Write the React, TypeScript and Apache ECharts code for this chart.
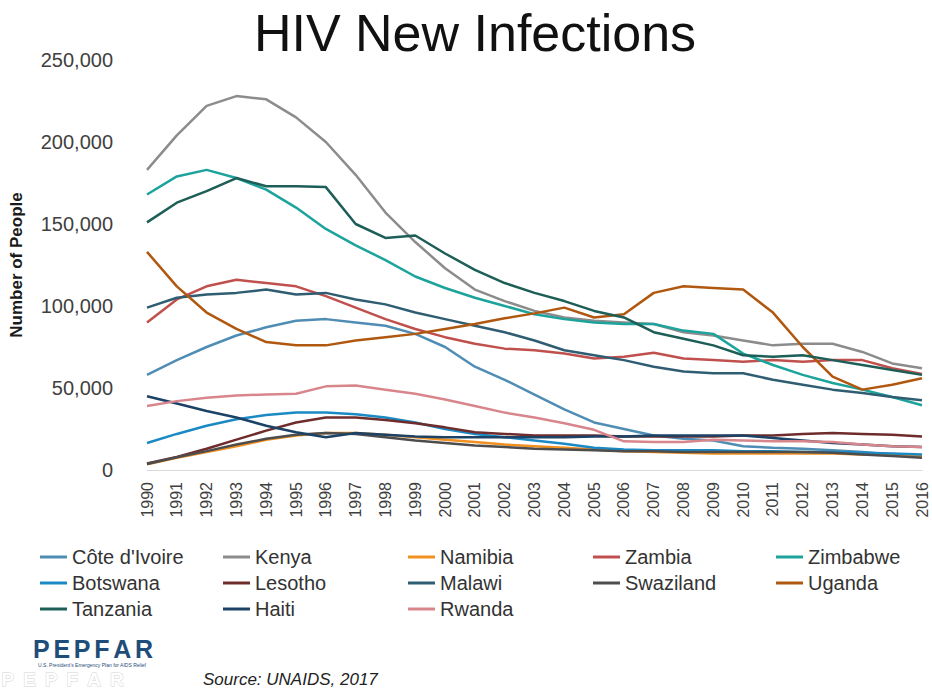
import React, { useEffect, useRef } from "react";
import * as echarts from "echarts";

const years = [
  "1990", "1991", "1992", "1993", "1994", "1995", "1996", "1997", "1998", "1999",
  "2000", "2001", "2002", "2003", "2004", "2005", "2006", "2007", "2008", "2009",
  "2010", "2011", "2012", "2013", "2014", "2015", "2016",
];

const coteDIvoire = [58000, 67000, 75000, 82000, 87000, 91000, 92000, 90000, 88000, 83000, 75000, 63000, 55000, 46000, 37000, 29000, 25000, 21000, 19000, 18000, 14500, 13500, 13000, 12000, 11000, 9500, 8500];
const kenya = [183000, 204000, 222000, 228000, 226000, 215000, 200000, 180000, 157000, 139000, 123000, 110000, 103000, 97000, 93000, 91000, 90000, 89000, 84000, 82000, 79000, 76000, 77000, 77000, 72000, 65000, 62000];
const namibia = [3500, 7500, 11000, 14500, 18500, 21000, 22500, 22500, 21500, 20000, 18500, 17000, 15500, 14500, 13500, 12500, 11500, 11000, 10500, 10000, 10000, 10000, 10000, 10000, 9500, 9000, 8500];
const zambia = [90000, 104000, 112000, 116000, 114000, 112000, 106000, 99000, 92000, 86000, 81000, 77000, 74000, 73000, 71000, 68000, 69000, 71500, 68000, 67000, 66000, 67000, 66000, 67000, 67000, 62000, 58500];
const zimbabwe = [168000, 179000, 183000, 178000, 171000, 160000, 147000, 137000, 128000, 118000, 111000, 105000, 100000, 95000, 92000, 90000, 89000, 89000, 85000, 83000, 71000, 64000, 58000, 53000, 49000, 44500, 39500];
const botswana = [16500, 22000, 27000, 31000, 33500, 35000, 35000, 34000, 32000, 29000, 25000, 22000, 20000, 18000, 16000, 13500, 12500, 12000, 12000, 12000, 11500, 11500, 11000, 11000, 10500, 10000, 9500];
const lesotho = [4000, 8000, 13000, 18500, 24000, 29000, 32000, 32000, 30500, 28500, 26000, 23000, 22000, 21000, 21000, 21000, 20500, 20500, 20500, 20500, 21000, 21000, 22000, 22500, 22000, 21500, 20500];
const malawi = [99000, 105000, 107000, 108000, 110000, 107000, 108000, 104000, 101000, 96000, 92000, 88000, 84000, 79000, 73000, 70000, 67000, 63000, 60000, 59000, 59000, 55000, 52000, 49000, 47000, 44500, 42500];
const swaziland = [3700, 7800, 11500, 15500, 19000, 21500, 22500, 22000, 20000, 18000, 16500, 15000, 14000, 13000, 12500, 12000, 11500, 11500, 11000, 11000, 11000, 11000, 11000, 10500, 9500, 8500, 7500];
const uganda = [133000, 112000, 96000, 86000, 78000, 76000, 76000, 79000, 81000, 83000, 86000, 89000, 92500, 95500, 99000, 93000, 95000, 108000, 112000, 111000, 110000, 96000, 75000, 57000, 49000, 52000, 56000];
const tanzania = [151000, 163000, 170000, 178000, 173000, 173000, 172500, 150000, 141500, 143000, 132000, 122000, 114000, 108000, 103000, 97000, 93000, 84000, 80000, 76000, 70000, 69000, 70000, 67000, 64000, 61000, 58000];
const haiti = [45000, 40500, 36000, 32000, 27000, 23000, 20000, 22500, 21500, 20500, 20000, 20000, 20000, 20000, 20000, 20500, 20500, 21000, 21000, 21000, 21000, 19500, 18000, 16500, 15500, 14500, 14000];
const rwanda = [39000, 42000, 44000, 45500, 46000, 46500, 51000, 51500, 49000, 46500, 43000, 39000, 35000, 32000, 28500, 24500, 17500, 17000, 17000, 18500, 18000, 17500, 17500, 17000, 15500, 14500, 14000];

const yTicks = [0, 50000, 100000, 150000, 200000, 250000];

const countries = [
  { name: "Côte d'Ivoire", data: coteDIvoire, color: "#4f8db5" },
  { name: "Kenya", data: kenya, color: "#8c8c8c" },
  { name: "Namibia", data: namibia, color: "#f0901f" },
  { name: "Zambia", data: zambia, color: "#c0504d" },
  { name: "Zimbabwe", data: zimbabwe, color: "#1ba39c" },
  { name: "Botswana", data: botswana, color: "#1b8ac4" },
  { name: "Lesotho", data: lesotho, color: "#6e2c2c" },
  { name: "Malawi", data: malawi, color: "#2f5d72" },
  { name: "Swaziland", data: swaziland, color: "#4d4d4d" },
  { name: "Uganda", data: uganda, color: "#b0580f" },
  { name: "Tanzania", data: tanzania, color: "#1d5e57" },
  { name: "Haiti", data: haiti, color: "#1c4266" },
  { name: "Rwanda", data: rwanda, color: "#d8868c" },
];

const legendColumns = [
  ["Côte d'Ivoire", "Botswana", "Tanzania"],
  ["Kenya", "Lesotho", "Haiti"],
  ["Namibia", "Malawi", "Rwanda"],
  ["Zambia", "Swaziland"],
  ["Zimbabwe", "Uganda"],
];
const legendLefts = [40, 223, 408, 593, 776];

const FONT = "'Liberation Sans', Arial, sans-serif";

export default function App() {
  const ref = useRef<HTMLDivElement>(null);

  useEffect(() => {
    if (!ref.current) return;
    const chart = echarts.init(ref.current, null, { renderer: "svg" });

    const logoLetters = ["P", "E", "P", "F", "A", "R"];
    const logoX = [33, 53.4, 73.8, 94.2, 113.2, 134.9];
    const markX = [1, 22.7, 44.4, 66.1, 86.7, 109.4];

    const option: any = {
      animation: false,
      backgroundColor: "#ffffff",
      textStyle: { fontFamily: FONT },
      title: {
        text: "HIV New Infections",
        left: 470,
        textAlign: "center",
        top: 2,
        textStyle: { fontSize: 52, fontWeight: "normal", color: "#111111", fontFamily: FONT },
      },
      grid: { left: 145, right: 10, top: 60, bottom: 219 },
      legend: legendColumns.map((col, i) => ({
        data: col,
        orient: "vertical",
        left: legendLefts[i],
        top: 547,
        padding: 0,
        itemWidth: 27,
        itemHeight: 3,
        itemGap: 6,
        icon: "rect",
        selectedMode: false,
        textStyle: { fontSize: 20, color: "#333333", fontFamily: FONT, lineHeight: 20 },
      })),
      xAxis: {
        type: "category",
        data: years,
        boundaryGap: false,
        axisLine: { show: true, lineStyle: { color: "#d9d9d9", width: 1 } },
        axisTick: { show: false },
        axisLabel: { rotate: 90, fontSize: 16, color: "#404040", margin: 12, interval: 0, fontFamily: FONT },
        splitLine: { show: false },
      },
      yAxis: {
        type: "value",
        min: yTicks[0],
        max: yTicks[yTicks.length - 1],
        interval: yTicks[1] - yTicks[0],
        name: "Number of People",
        nameLocation: "middle",
        nameGap: 122,
        nameTextStyle: { fontSize: 17, fontWeight: "bold", color: "#1a1a1a", fontFamily: FONT },
        axisLine: { show: false },
        axisTick: { show: false },
        splitLine: { show: false },
        axisLabel: {
          fontSize: 20,
          color: "#404040",
          margin: 34,
          fontFamily: FONT,
          formatter: (v: number) => v.toLocaleString("en-US"),
        },
      },
      series: countries.map((c) => ({
        name: c.name,
        type: "line",
        data: c.data,
        symbol: "none",
        color: c.color,
        lineStyle: { width: 2.5, color: c.color },
      })),
      graphic: [
        ...logoLetters.map((l, i) => ({
          type: "text",
          left: logoX[i],
          top: 636,
          style: { text: l, fontSize: 25, fontWeight: "bold", fill: "#1f4d7a", fontFamily: FONT },
        })),
        {
          type: "text",
          left: 38,
          top: 662,
          style: { text: "U.S. President's Emergency Plan for AIDS Relief", fontSize: 5, fill: "#1f4d7a", fontFamily: FONT },
        },
        ...logoLetters.map((l, i) => ({
          type: "text",
          left: markX[i],
          top: 669,
          style: { text: l, fontSize: 19, fontWeight: "bold", fill: "#ffffff", stroke: "#d4d4d4", lineWidth: 1, fontFamily: FONT },
        })),
        {
          type: "text",
          left: 203,
          top: 671,
          style: { text: "Source: UNAIDS, 2017", fontSize: 17, fontStyle: "italic", fill: "#222222", fontFamily: FONT },
        },
      ],
    };

    chart.setOption(option);
    return () => chart.dispose();
  }, []);

  return (
    <div
      ref={ref}
      style={{ position: "fixed", left: 0, top: 0, width: 932, height: 689, background: "#fff" }}
    />
  );
}
